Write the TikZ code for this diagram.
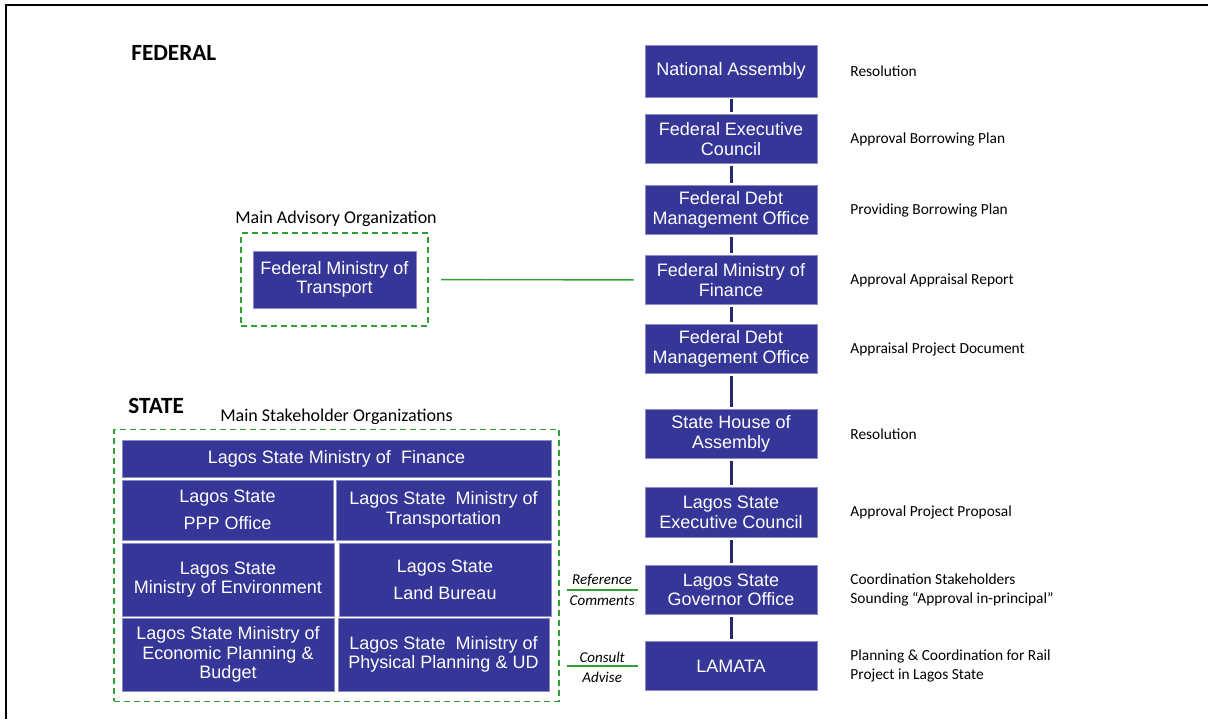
\documentclass[tikz,border=0pt]{standalone}
\usepackage{fontspec}
\usepackage{tikz}
\usetikzlibrary{fit}
\usetikzlibrary{positioning}
\newfontfamily\boxfont{Liberation Sans}
\newfontfamily\notefont{Carlito}
\definecolor{orgblue}{HTML}{363698}
\definecolor{orgedge}{HTML}{8C8CCB}
\definecolor{linkblue}{HTML}{232A70}
\definecolor{tiegreen}{HTML}{30A030}
\tikzset{
  org/.style 2 args={
    rectangle,
    draw=orgedge,
    line width=0.4pt,
    fill=orgblue,
    text=white,
    align=center,
    inner sep=0pt,
    minimum width=#1,
    minimum height=#2,
    font={\boxfont\fontsize{9}{9.75}\selectfont}},
  loose/.style={font={\boxfont\fontsize{9}{13.5}\selectfont}},
}

\begin{document}
\begin{tikzpicture}[
  x=0.5pt, y=-0.5pt,
  link/.style={draw=linkblue, line width=1.5pt, shorten <=1pt, shorten >=1pt},
  note/.style={anchor=west, align=left, inner sep=0pt, font={\notefont\fontsize{7.7}{9.5}\selectfont}},
  head/.style={anchor=west, inner sep=0pt, font={\notefont\bfseries\fontsize{11.6}{13}\selectfont}},
  title/.style={inner sep=0pt, font={\notefont\fontsize{9}{11}\selectfont}},
  group/.style={draw=tiegreen, line width=0.8pt, dash pattern=on 3pt off 2pt, inner sep=0pt},
  tie/.style={draw=tiegreen, line width=0.7pt},
  tag/.style={inner sep=1.5pt, font={\notefont\itshape\fontsize{7.5}{9}\selectfont}}]
  \useasboundingbox (0,0) rectangle (1208,719);
  \draw[line width=1pt] (1208,5) -- (6,5) -- (6,719);

  \node[head] (fed) at (131,53) {FEDERAL};
  \node[head] (state) at (128,406) {STATE};

  % approval chain
  \foreach \t/\n/\y/\h [count=\step from 1] in {
    National Assembly/Resolution/71/26pt,
    {Federal Executive\\Council}/Approval Borrowing Plan/139/24.5pt,
    {Federal Debt\\Management Office}/Providing Borrowing Plan/210/24.5pt,
    {Federal Ministry of\\Finance}/Approval Appraisal Report/280/24.5pt,
    {Federal Debt\\Management Office}/Appraisal Project Document/349/24.5pt,
    {State House of\\Assembly}/Resolution/434/24.5pt,
    {Lagos State\\Executive Council}/Approval Project Proposal/512.5/25pt,
    {Lagos State\\Governor Office}/{Coordination Stakeholders\\Sounding “Approval in-principal”}/590/24.5pt,
    LAMATA/{Planning \& Coordination for Rail\\Project in Lagos State}/666/24.5pt} {
    \node[org={86pt}{\h}] (c\step) at (731,\y) {\t};
    \node[note] (n\step) at (850,\y) {\n};
    \ifnum\step>1
      \pgfmathtruncatemacro{\last}{\step-1}
      \draw[link] (c\last) -- (c\step);
    \fi
  }

  % advisory
  \node[org={81.5pt}{28.5pt}] (trp) at (334.5,279.5) {Federal Ministry of\\Transport};
  \node[group, fit=(trp), inner xsep=5.75pt, inner ysep=8.75pt] (adv) {};
  \node[title] (adv-t) at (336,219) {Main Advisory Organization};
  \draw[tie, shorten <=6.25pt, shorten >=5.5pt] (adv) -- (c4);

  % stakeholders
  \node[org={214.5pt}{18.5pt}] (fin) at (336.5,458.5) {Lagos State Ministry of\ \ Finance};
  \node[org={105.5pt}{30pt}, loose] (ppp) at (227.5,510) {Lagos State\\PPP Office};
  \node[org={107.5pt}{30pt}] (trn) at (443.5,510) {Lagos State\ \ Ministry of\\Transportation};
  \node[org={106pt}{36.5pt}] (env) at (228,579.5) {Lagos State\\Ministry of Environment};
  \node[org={106pt}{36.5pt}, loose] (land) at (445,579.5) {Lagos State\\Land Bureau};
  \node[org={106pt}{36.5pt}] (econ) at (228,654.5) {Lagos State Ministry of\\Economic Planning \&\\Budget};
  \node[org={105.5pt}{36.5pt}] (phys) at (443.5,654.5) {Lagos State\ \ Ministry of\\Physical Planning \& UD};
  \node[group, fit=(fin)(econ)(phys), inner xsep=3.75pt, inner ysep=5pt] (stake) {};
  \node[title] (stake-t) at (336.5,417) {Main Stakeholder Organizations};

  \draw[tie, shorten <=3.5pt, shorten >=3.5pt] (stake.east |- c8) -- (c8.west)
    node[tag, midway, above] {Reference} node[tag, midway, below, inner sep=2.5pt] {Comments};
  \draw[tie, shorten <=3.5pt, shorten >=3.5pt] (stake.east |- c9) -- (c9.west)
    node[tag, midway, above] {Consult} node[tag, midway, below, inner sep=2.5pt] {Advise};
\end{tikzpicture}
\end{document}
